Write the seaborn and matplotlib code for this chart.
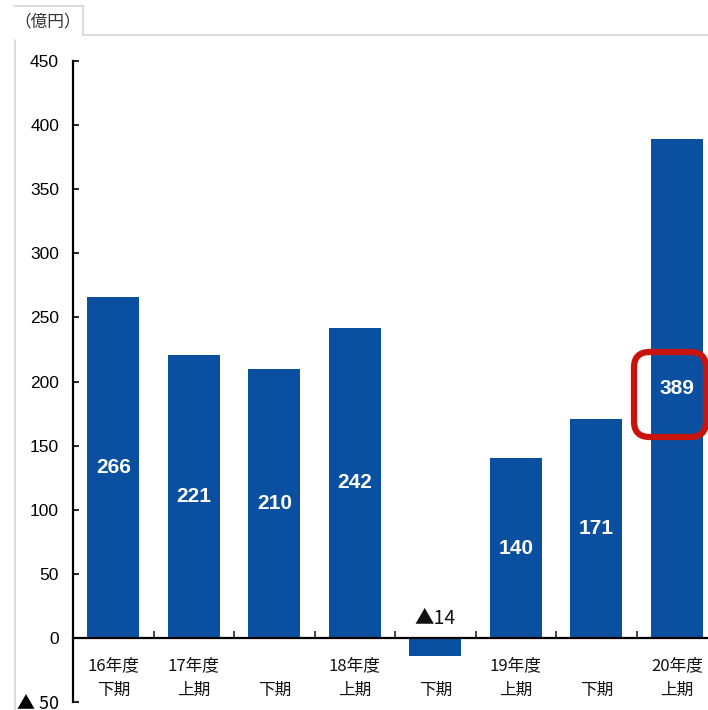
import matplotlib
matplotlib.use("Agg")
import matplotlib.pyplot as plt
from matplotlib.patches import FancyBboxPatch
from matplotlib.lines import Line2D
import seaborn as sns
import pandas as pd
import numpy as np

# ---- data ----
periods = ["16年度下期", "17年度上期", "17年度下期", "18年度上期",
           "18年度下期", "19年度上期", "19年度下期", "20年度上期"]
values = [266, 221, 210, 242, -14, 140, 171, 389]
tick_labels = ["16年度\n下期", "17年度\n上期", "\n下期", "18年度\n上期",
               "\n下期", "19年度\n上期", "\n下期", "20年度\n上期"]
value_labels = ["266", "221", "210", "242", "▲14", "140", "171", "389"]
y_ticks = [-50, 0, 50, 100, 150, 200, 250, 300, 350, 400, 450]
y_tick_labels = ["▲ 50", "0", "50", "100", "150", "200", "250", "300", "350", "400", "450"]
unit_label = "（億円）"

sns.set_theme(style="white")
plt.rcParams['font.family'] = ['Liberation Sans', 'Noto Sans CJK JP', 'DejaVu Sans']

W, H = 708, 710
fig = plt.figure(figsize=(W / 100, H / 100), dpi=100)

# axes placement in pixels
ax_left, ax_right = 73, 708
px_per_cat = 80.5
y_top_px, y_bot_px = 61, 702
ax = fig.add_axes([ax_left / W, (H - y_bot_px) / H, (ax_right - ax_left) / W, (y_bot_px - y_top_px) / H])

df = pd.DataFrame({"period": periods, "value": values})
bar_color = "#0B50A0"
sns.barplot(data=df, x="period", y="value", order=periods, color=bar_color,
            saturation=1, width=0.65, ax=ax, edgecolor="none")

xmax = (ax_right - ax_left) / px_per_cat - 0.5
ax.set_xlim(-0.5, xmax)
ax.set_ylim(-50, 450)

# value labels
for i, (v, lab) in enumerate(zip(values, value_labels)):
    if v > 0:
        ax.text(i, v / 2, lab, ha="center", va="center", color="white",
                fontsize=15, fontweight="bold",
                family=['Liberation Sans Narrow', 'Liberation Sans'])
    else:
        ax.text(i, 7, lab, ha="center", va="bottom", color="#111111",
                fontsize=14, family=['Noto Sans CJK JP', 'Liberation Sans'])

# spines
for s in ["top", "right"]:
    ax.spines[s].set_visible(False)
ax.spines["bottom"].set_position(("data", 0))
ax.spines["left"].set_color("black")
ax.spines["bottom"].set_color("black")
ax.spines["left"].set_linewidth(1.6)
ax.spines["bottom"].set_linewidth(1.6)

# y ticks
ax.set_yticks(y_ticks)
ax.set_yticklabels(y_tick_labels, fontsize=12.5,
                   family=['Liberation Sans', 'Noto Sans CJK JP'])
ax.tick_params(axis="y", direction="in", length=4, width=1.2, pad=10, colors="black", left=True)
for t in ax.get_yticklabels():
    if t.get_text().startswith("▲"):
        t.set_family(['Noto Sans CJK JP'])
        t.set_fontsize(13)

# x ticks: major at boundaries (no labels), minor at centres (labels)
ax.set_xticks(np.arange(0.5, len(periods) - 1, 1.0))
ax.set_xticklabels([])
ax.tick_params(axis="x", which="major", direction="in", length=5, width=1.2, bottom=True)
ax.set_xticks(np.arange(len(periods)), minor=True)
ax.set_xticklabels(tick_labels, minor=True, fontsize=12, linespacing=1.55,
                   family=['Noto Sans CJK JP'], color="#111111")
ax.tick_params(axis="x", which="minor", length=0, pad=14)
ax.set_xlabel("")
ax.set_ylabel("")

# frame/tab decorations (figure pixel coords)
def px(x, y):
    return x / W, (H - y) / H

gray = "#d4d4d4"
for (x0, y0), (x1, y1) in [((14, 6), (83, 6)), ((83, 6), (83, 35)),
                           ((83, 35), (708, 35)), ((15, 40), (15, 710))]:
    a, b = px(x0, y0)
    c, d = px(x1, y1)
    fig.add_artist(Line2D([a, c], [b, d], color=gray, linewidth=1.2, transform=fig.transFigure))

tx, ty = px(48, 22)
fig.text(tx, ty, unit_label, ha="center", va="center", fontsize=12, color="#333333",
         family=['Noto Sans CJK JP'])

# red highlight box around last label
bx0, by0 = px(634, 437)
bx1, by1 = px(706, 352)
box = FancyBboxPatch((bx0, by0), bx1 - bx0, by1 - by0,
                     boxstyle="round,pad=0,rounding_size=0.022",
                     transform=fig.transFigure, facecolor="none",
                     edgecolor="#C8140A", linewidth=4.5, clip_on=False)
fig.add_artist(box)

fig.savefig("out.png", dpi=100)
